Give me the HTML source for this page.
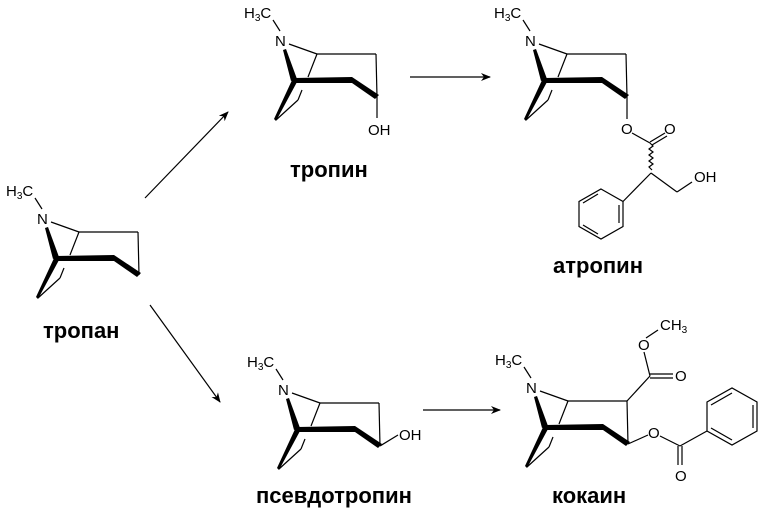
<!DOCTYPE html>
<html><head><meta charset="utf-8"><style>
body{margin:0;background:#fff}
svg{display:block}
text{font-family:"Liberation Sans",sans-serif;fill:#000}
.lab{font-size:22px;font-weight:bold}
.at{font-size:15px}
.sub{font-size:10px}
</style></head><body>
<svg width="762" height="512" viewBox="0 0 762 512" xmlns="http://www.w3.org/2000/svg">
<defs>
<g id="trop" stroke="#000" stroke-width="1.2" fill="none">
<text x="6" y="196" class="at" stroke="none">H<tspan class="sub" dy="3">3</tspan><tspan dy="-3">C</tspan></text>
<line x1="35" y1="198" x2="42" y2="209"/>
<text x="37" y="224" class="at" stroke="none">N</text>
<line x1="51" y1="222" x2="79" y2="232"/>
<line x1="79" y1="232" x2="138" y2="232"/>
<line x1="138" y1="232" x2="139" y2="275"/>
<line x1="79" y1="232" x2="70" y2="255"/>
<line x1="64" y1="268" x2="60" y2="278"/>
<line x1="60" y1="278" x2="38" y2="298"/>
<polygon points="45,228 48,227 59,257 53,259" fill="#000" stroke="none"/>
<polygon points="55,256 59,260 38,299 36,297" fill="#000" stroke="none"/>
<polygon points="56,256 114,255 141,273 137,277 114,261 56,261" fill="#000" stroke="none"/>
</g>
<marker id="ah" markerWidth="10" markerHeight="8" refX="9" refY="4" orient="auto" markerUnits="userSpaceOnUse">
<path d="M0,0 L10,4 L0,8 L3,4 Z" fill="#000"/></marker>
</defs>

<use href="#trop"/>
<text x="43" y="338" class="lab">тропан</text>

<use href="#trop" transform="translate(238,-178)"/>
<g stroke="#000" stroke-width="1.2" fill="none"><line x1="377" y1="97" x2="377" y2="118"/></g>
<text x="368" y="135" class="at">OH</text>
<text x="290" y="177" class="lab">тропин</text>

<use href="#trop" transform="translate(488,-178)"/>
<g stroke="#000" stroke-width="1.2" fill="none">
<line x1="627" y1="97" x2="627" y2="119"/>
<line x1="632" y1="133" x2="650" y2="143"/>
<line x1="650" y1="142" x2="665" y2="133"/>
<line x1="652" y1="145" x2="667" y2="136"/>
<path d="M650,143 l3,3 l-4,3 l4,3 l-4,3 l4,3 l-4,3 l4,3 l-4,3 l3,3"/>
<line x1="651" y1="173" x2="677" y2="192"/>
<line x1="677" y1="192" x2="692" y2="182"/>
<line x1="651" y1="173" x2="623" y2="201.5"/>
<polygon points="601,189 623,201.5 623,226.5 601,239 579,226.5 579,201.5"/>
<line x1="619" y1="205" x2="619" y2="223"/>
<line x1="598" y1="234" x2="583" y2="225"/>
<line x1="583" y1="203" x2="598" y2="194"/>
</g>
<text x="621" y="134" class="at">O</text>
<text x="664" y="134" class="at">O</text>
<text x="694" y="182" class="at">OH</text>
<text x="553" y="273" class="lab">атропин</text>

<use href="#trop" transform="translate(241,171)"/>
<g stroke="#000" stroke-width="1.2" fill="none"><line x1="380" y1="446" x2="398" y2="435"/></g>
<text x="399" y="440" class="at">OH</text>
<text x="256" y="503" class="lab">псевдотропин</text>

<use href="#trop" transform="translate(489,169)"/>
<g stroke="#000" stroke-width="1.2" fill="none">
<line x1="627" y1="401" x2="650" y2="376"/>
<line x1="650" y1="374" x2="673" y2="374"/>
<line x1="650" y1="378" x2="673" y2="378"/>
<line x1="650" y1="376" x2="644" y2="352"/>
<line x1="646" y1="338" x2="658" y2="330"/>
<line x1="628" y1="444" x2="648" y2="435"/>
<line x1="660" y1="436" x2="680" y2="446"/>
<line x1="678" y1="446" x2="678" y2="465"/>
<line x1="682" y1="446" x2="682" y2="465"/>
<line x1="680" y1="446" x2="707" y2="431"/>
<polygon points="707,402 732,388 757,402 757,431 732,445 707,431"/>
<line x1="711" y1="405" x2="732" y2="393"/>
<line x1="753" y1="405" x2="753" y2="428"/>
<line x1="732" y1="440" x2="711" y2="428"/>
</g>
<text x="638" y="350" class="at">O</text>
<text x="660" y="330" class="at">CH<tspan class="sub" dy="3">3</tspan></text>
<text x="675" y="381" class="at">O</text>
<text x="648" y="438" class="at">O</text>
<text x="675" y="481" class="at">O</text>
<text x="552" y="503" class="lab">кокаин</text>

<g stroke="#000" stroke-width="1.2">
<line x1="145" y1="198" x2="228" y2="112" marker-end="url(#ah)"/>
<line x1="150" y1="305" x2="220" y2="402" marker-end="url(#ah)"/>
<line x1="410" y1="77" x2="490" y2="77" marker-end="url(#ah)"/>
<line x1="423" y1="410" x2="500" y2="410" marker-end="url(#ah)"/>
</g>
</svg>
</body></html>
